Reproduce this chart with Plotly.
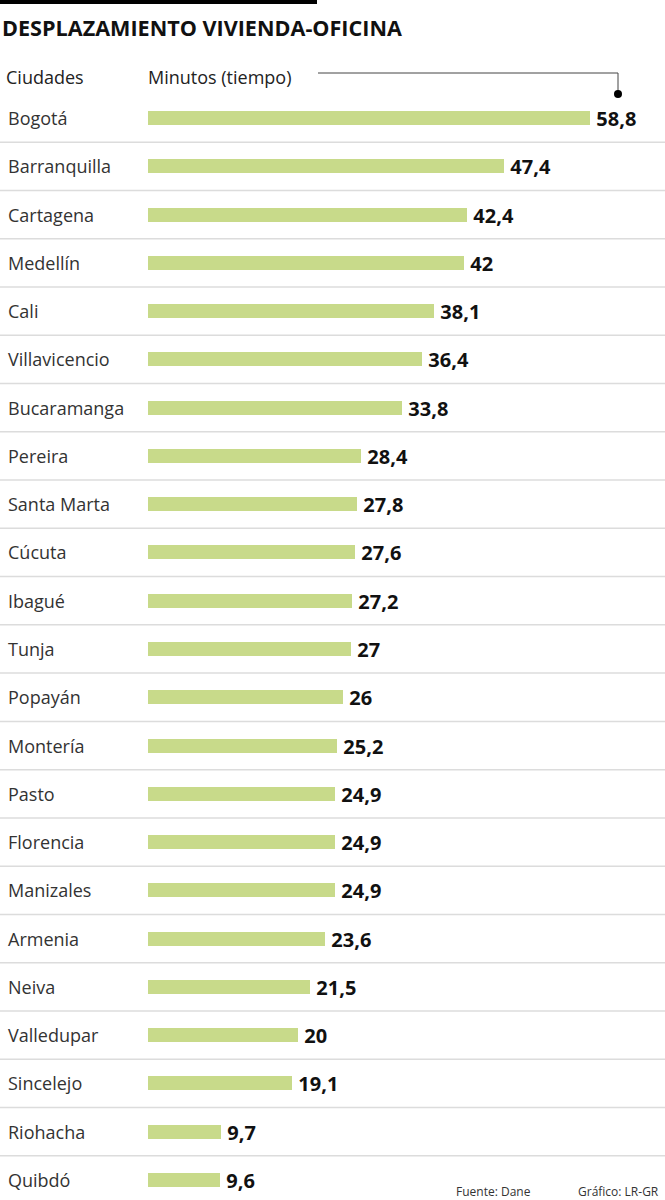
import plotly.graph_objects as go

# data
ciudades = ["Bogotá", "Barranquilla", "Cartagena", "Medellín", "Cali", "Villavicencio",
            "Bucaramanga", "Pereira", "Santa Marta", "Cúcuta", "Ibagué", "Tunja",
            "Popayán", "Montería", "Pasto", "Florencia", "Manizales", "Armenia",
            "Neiva", "Valledupar", "Sincelejo", "Riohacha", "Quibdó"]
minutos = [58.8, 47.4, 42.4, 42, 38.1, 36.4, 33.8, 28.4, 27.8, 27.6, 27.2, 27,
           26, 25.2, 24.9, 24.9, 24.9, 23.6, 21.5, 20, 19.1, 9.7, 9.6]

W, H = 665, 1200
FONT = "Open Sans"
BAR_COLOR = "#c8da8a"


def fmt(v):
    # decimal comma, no decimals for whole numbers
    if float(v).is_integer():
        return str(int(v))
    return str(v).replace(".", ",")


pos = list(range(len(ciudades)))

# pixel geometry of the original
x0_px, x_end_px = 148, 590          # bar start, end of Bogota's bar
px_per_unit = (x_end_px - x0_px) / minutos[0]
row0_px, row_step = 118, 48.27

fig = go.Figure()
fig.add_trace(go.Bar(
    y=pos, x=minutos, orientation="h",
    marker=dict(color=BAR_COLOR, line=dict(width=0)),
    width=0.29,
    text=[fmt(v) for v in minutos],
    texttemplate="\u2009%{text}",
    textposition="outside",
    constraintext="none",
    cliponaxis=False,
    textfont=dict(family=FONT, size=20, color="#111111", weight="bold"),
    hoverinfo="skip",
))

shapes = []
# black bar above the title
shapes.append(dict(type="rect", xref="paper", yref="paper",
                   x0=0, x1=317 / W, y0=1 - 4 / H, y1=1,
                   fillcolor="black", line=dict(width=0)))
# row separators
for i in range(len(ciudades) - 1):
    shapes.append(dict(type="line", xref="paper", yref="y",
                       x0=0, x1=1, y0=i + 0.5, y1=i + 0.5,
                       line=dict(color="#dcdcdc", width=1.5)))
# connector from header to Bogota value
shapes.append(dict(type="path", xref="paper", yref="paper",
                   path="M {} {} L {} {} L {} {}".format(
                       318 / W, 1 - 73 / H, 618 / W, 1 - 73 / H, 618 / W, 1 - 93 / H),
                   line=dict(color="#444444", width=1)))
shapes.append(dict(type="circle", xref="paper", yref="paper",
                   x0=614 / W, x1=622 / W, y0=1 - 98 / H, y1=1 - 90 / H,
                   fillcolor="black", line=dict(width=0)))

annotations = []
for i, c in enumerate(ciudades):
    annotations.append(dict(x=6 / W, xref="paper", y=i, yref="y", text=c,
                            showarrow=False, xanchor="left", yanchor="middle",
                            font=dict(family=FONT, size=18, color="#333333")))

annotations += [
    dict(x=0, y=1 - 28 / H, xref="paper", yref="paper",
         text="<b>DESPLAZAMIENTO VIVIENDA-OFICINA</b>", showarrow=False,
         xanchor="left", yanchor="middle",
         font=dict(family=FONT, size=21.6, color="#111111")),
    dict(x=4 / W, y=1 - 77 / H, xref="paper", yref="paper", text="Ciudades",
         showarrow=False, xanchor="left", yanchor="middle",
         font=dict(family=FONT, size=18, color="#222222")),
    dict(x=146 / W, y=1 - 77 / H, xref="paper", yref="paper", text="Minutos (tiempo)",
         showarrow=False, xanchor="left", yanchor="middle",
         font=dict(family=FONT, size=18, color="#222222")),
    dict(x=454 / W, y=1 - 1191 / H, xref="paper", yref="paper", text="Fuente: Dane",
         showarrow=False, xanchor="left", yanchor="middle",
         font=dict(family=FONT, size=12, color="#333333")),
    dict(x=661 / W, y=1 - 1191 / H, xref="paper", yref="paper", text="Gráfico: LR-GR",
         showarrow=False, xanchor="right", yanchor="middle",
         font=dict(family=FONT, size=12, color="#333333")),
]

fig.update_layout(
    width=W, height=H,
    margin=dict(l=0, r=0, t=0, b=0),
    paper_bgcolor="white", plot_bgcolor="white",
    showlegend=False,
    xaxis=dict(domain=[x0_px / W, 1], range=[0, (W - x0_px) / px_per_unit],
               visible=False, fixedrange=True),
    yaxis=dict(domain=[0, 1],
               range=[(H - row0_px) / row_step, -row0_px / row_step],
               visible=False, fixedrange=True),
    shapes=shapes,
    annotations=annotations,
    bargap=0,
)

# drop the page's default body margin so the figure sits at the corner
fig.write_html("out.html", config={"displayModeBar": False},
               post_script="document.body.style.margin='0';")
